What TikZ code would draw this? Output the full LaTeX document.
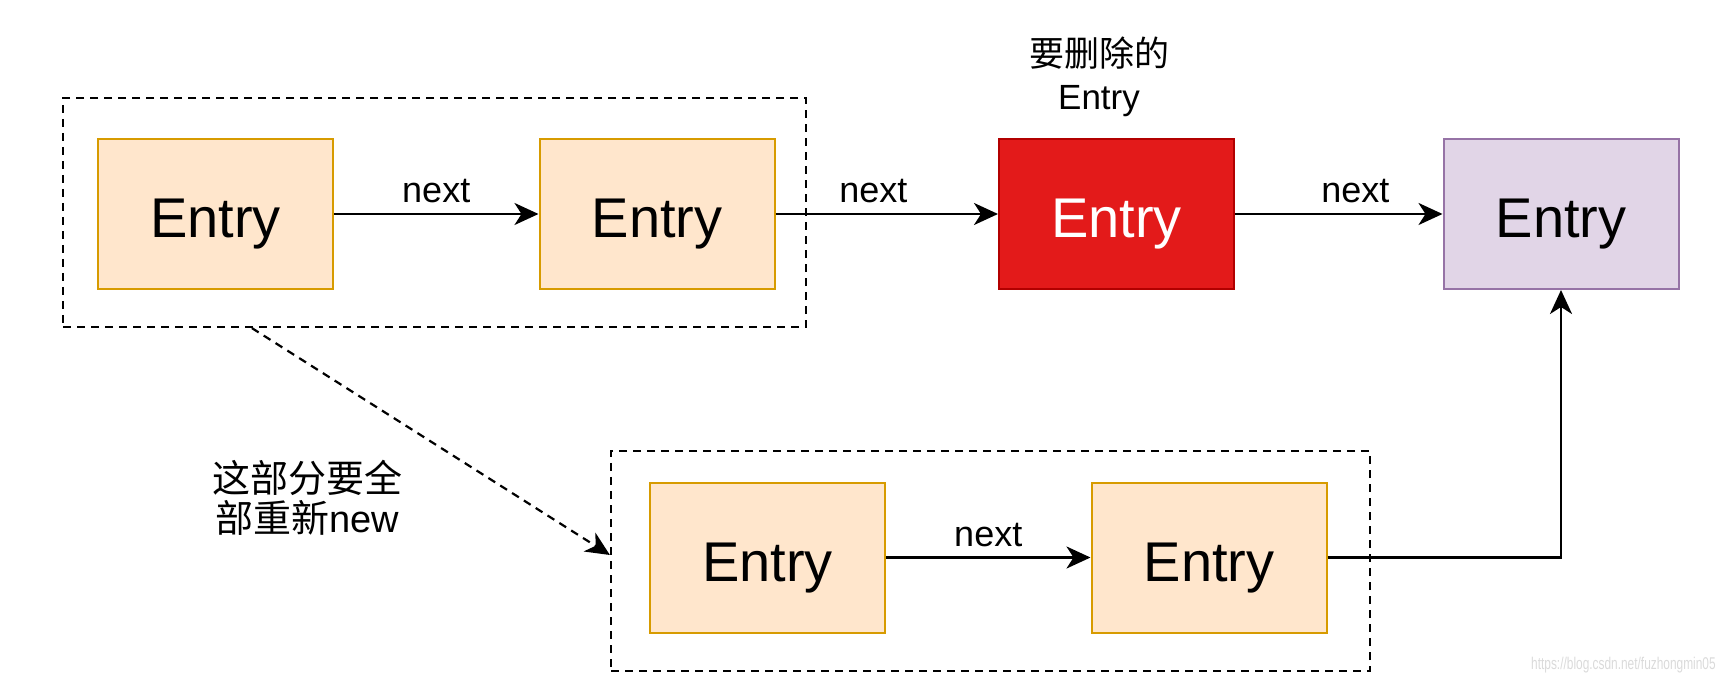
\documentclass[tikz,border=0pt]{standalone}
\usepackage{fontspec}
\setmainfont{Liberation Sans}
\newfontfamily\cjk{Noto Sans CJK SC}
\usetikzlibrary{arrows.meta,positioning}
\definecolor{orfill}{HTML}{FFE6CC}
\definecolor{ordraw}{HTML}{D79B00}
\definecolor{redfill}{HTML}{E31A1A}
\definecolor{reddraw}{HTML}{B20000}
\definecolor{pufill}{HTML}{E1D5E7}
\definecolor{pudraw}{HTML}{9673A6}
\definecolor{wm}{HTML}{DADADA}
\tikzset{
  entry/.style={rectangle, minimum width=117.5pt, minimum height=75pt, inner sep=0pt,
    line width=1pt, font=\fontsize{28}{32}\selectfont, text height=23.8pt, text depth=0pt},
  orbox/.style={entry, fill=orfill, draw=ordraw},
  redbox/.style={entry, fill=redfill, draw=reddraw, text=white},
  pubox/.style={entry, fill=pufill, draw=pudraw},
  group/.style={rectangle, draw=black, line width=1.1pt, dash pattern=on 4pt off 3pt, inner sep=0pt},
  link/.style={line width=1.25pt, -{Stealth[length=12pt,width=11pt,inset=3.5pt]}},
  lbl/.style={font=\fontsize{18}{21}\selectfont, above=1.5pt},
}
\begin{document}
\begin{tikzpicture}[x=0.5pt,y=-0.5pt]
\useasboundingbox (0,0) rectangle (1724,684);
% groups
\node[group, minimum width=371.5pt, minimum height=114.5pt] (g1) at (434.5,212.5) {};
\node[group, minimum width=379.5pt, minimum height=110pt] (g2) at (990.5,561) {};
% entries
\node[orbox] (e1) at (215.5,214) {Entry};
\node[orbox] (e2) at (657,214) {Entry};
\node[redbox] (er) at (1116.5,214) {Entry};
\node[pubox] (ep) at (1561,214) {Entry};
\node[orbox] (e3) at (767.5,557.5) {Entry};
\node[orbox] (e4) at (1209,557.5) {Entry};
% labels
\node[align=center, font=\fontsize{17.5}{21.5}\selectfont] (tl) at (1099,77) {{\cjk 要删除的}\\Entry};
\node[align=center, font=\fontsize{19}{20}\selectfont] (bl) at (307,498) {{\cjk 这部分要全}\\{\cjk 部重新}new};
\node[font=\fontsize{8.5}{10}\selectfont, text=wm, xscale=0.7, anchor=east, inner sep=0pt] (wmk) at (1716,665) {https://blog.csdn.net/fuzhongmin05};
% links
\draw[link] (e1) -- node[lbl] {next} (e2);
\draw[link] (e2) -- node[lbl, pos=0.44] {next} (er);
\draw[link] (er) -- node[lbl, pos=0.58] {next} (ep);
\draw[link] (e3) -- node[lbl] {next} (e4);
\draw[link] (e4.east) -| (ep.south);
\draw[line width=1.1pt, dash pattern=on 4pt off 3pt, -{Stealth[length=12pt,width=11pt,inset=3.5pt]}]
  ([xshift=95pt]g1.south west) -- ([yshift=3pt]g2.west);
\end{tikzpicture}
\end{document}
